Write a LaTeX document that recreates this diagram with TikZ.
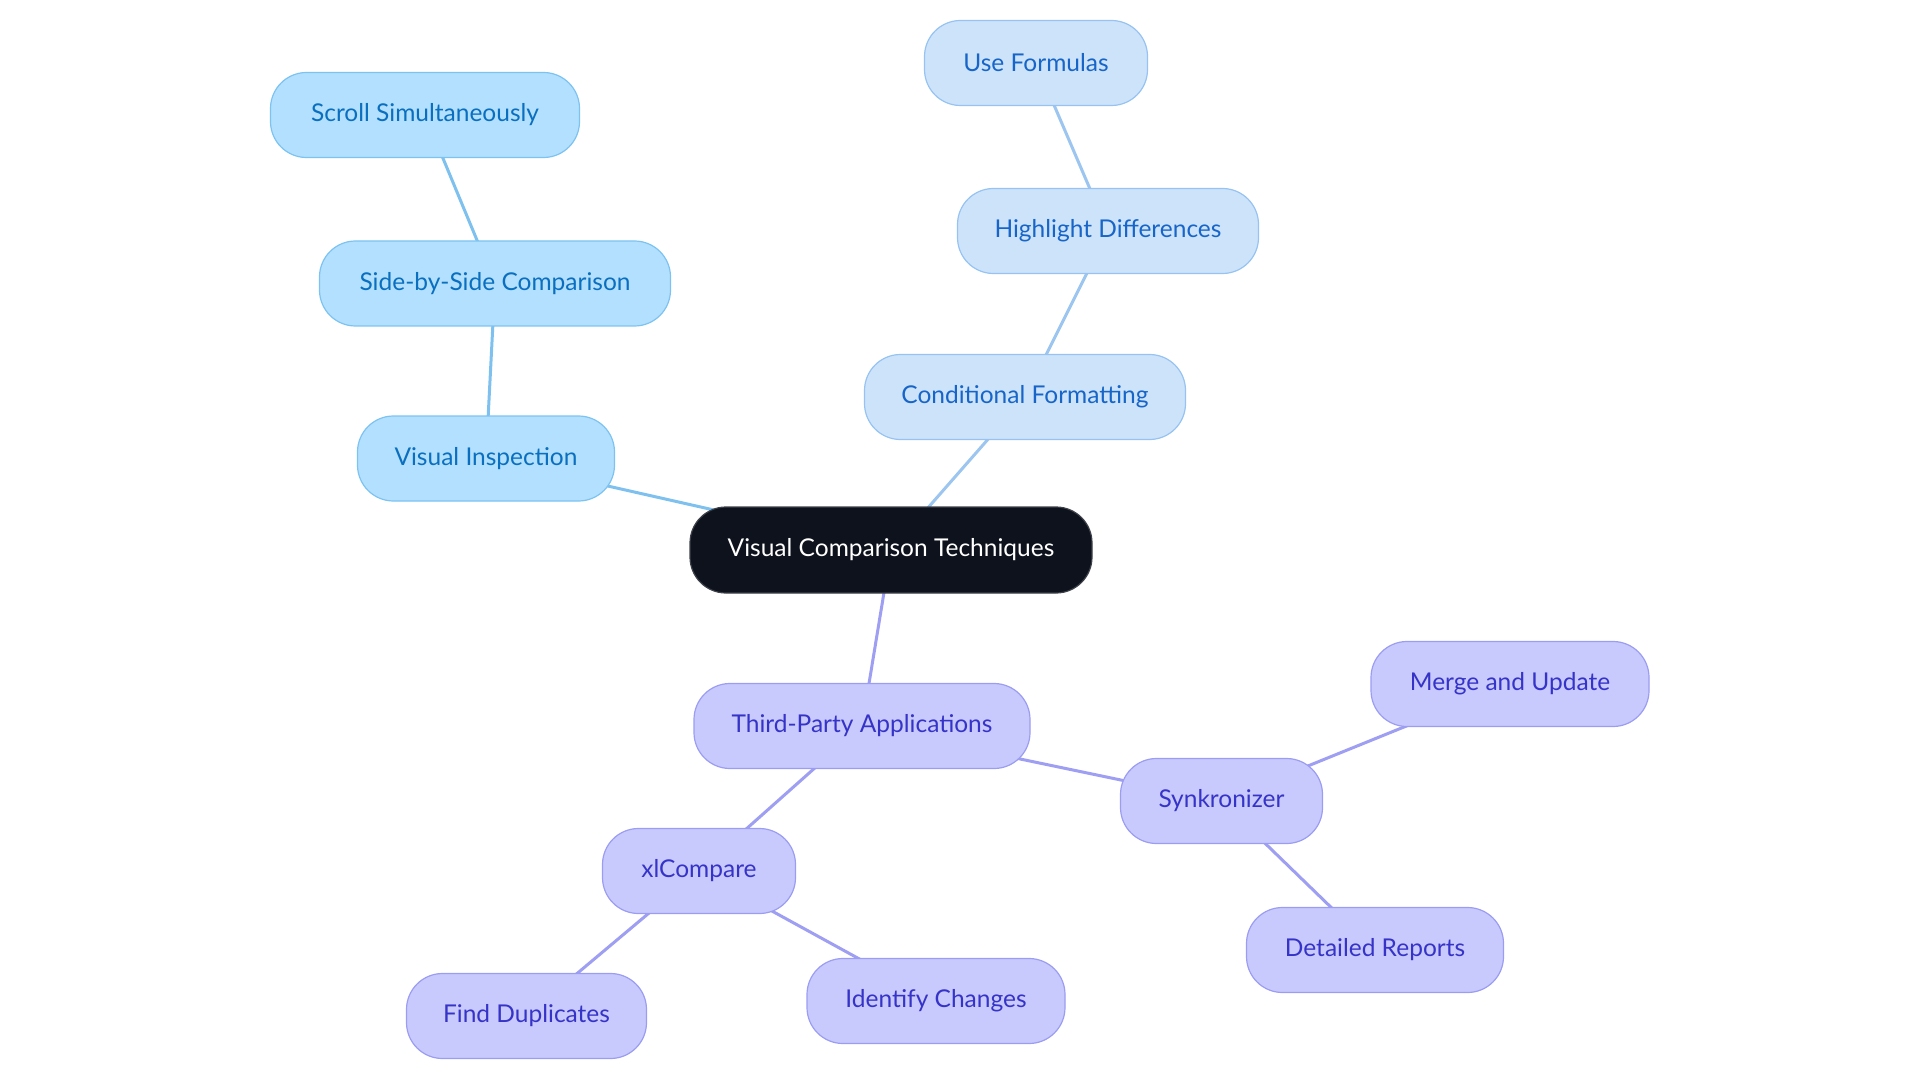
\documentclass[tikz,border=0pt]{standalone}
\usepackage{fontspec}
\setmainfont{Lato}
\usetikzlibrary{backgrounds}
\definecolor{cfill}{HTML}{0D121C}
\definecolor{bfill}{HTML}{B3E0FE}
\definecolor{bdraw}{HTML}{7CC3F2}
\definecolor{btext}{HTML}{0A6FBF}
\definecolor{lfill}{HTML}{CDE3FA}
\definecolor{ldraw}{HTML}{96C3F2}
\definecolor{ltext}{HTML}{1765C8}
\definecolor{pfill}{HTML}{C8C9FC}
\definecolor{pdraw}{HTML}{9B9DF2}
\definecolor{ptext}{HTML}{3634C8}
\definecolor{bedge}{HTML}{7EC0EE}
\definecolor{ledge}{HTML}{9CC6F0}
\definecolor{pedge}{HTML}{9E9EF2}
\tikzset{
  box/.style={rounded corners=36pt, minimum height=85pt, line width=1.2pt, inner xsep=0pt, font=\fontsize{24.5}{28}\selectfont},
  cnode/.style={box, fill=cfill, draw=cfill!80!white, text=white},
  bnode/.style={box, fill=bfill, draw=bdraw, text=btext},
  lnode/.style={box, fill=lfill, draw=ldraw, text=ltext},
  pnode/.style={box, fill=pfill, draw=pdraw, text=ptext},
  bline/.style={draw=bedge, line width=3pt},
  lline/.style={draw=ledge, line width=3pt},
  pline/.style={draw=pedge, line width=3pt},
}
\begin{document}
\begin{tikzpicture}[x=1pt,y=-1pt]
\useasboundingbox (0,0) rectangle (1920,1083);
\node[cnode, minimum width=402pt, minimum height=86pt] (c) at (891,550) {Visual Comparison Techniques};
\node[bnode, minimum width=309pt] (ss) at (425,115) {Scroll Simultaneously};
\node[bnode, minimum width=351pt] (sbs) at (495,283.5) {Side-by-Side Comparison};
\node[bnode, minimum width=257pt] (vi) at (486,458.5) {Visual Inspection};
\node[lnode, minimum width=223pt] (uf) at (1036,63) {Use Formulas};
\node[lnode, minimum width=301pt] (hd) at (1108,231) {Highlight Differences};
\node[lnode, minimum width=321pt] (cf) at (1025,397) {Conditional Formatting};
\node[pnode, minimum width=336pt] (tpa) at (862,726) {Third-Party Applications};
\node[pnode, minimum width=193pt] (xl) at (699,871) {xlCompare};
\node[pnode, minimum width=240pt] (fd) at (526.5,1016) {Find Duplicates};
\node[pnode, minimum width=258pt] (ic) at (936,1001) {Identify Changes};
\node[pnode, minimum width=202pt] (sk) at (1221.5,801) {Synkronizer};
\node[pnode, minimum width=278pt] (mu) at (1510,684) {Merge and Update};
\node[pnode, minimum width=257pt] (dr) at (1375,950) {Detailed Reports};
\begin{scope}[on background layer]
\draw[bline] (c.center) -- (vi.center);
\draw[bline] (vi.center) -- (sbs.center);
\draw[bline] (sbs.center) -- (ss.center);
\draw[lline] (c.center) -- (cf.center);
\draw[lline] (cf.center) -- (hd.center);
\draw[lline] (hd.center) -- (uf.center);
\draw[pline] (c.center) -- (tpa.center);
\draw[pline] (tpa.center) -- (xl.center);
\draw[pline] (xl.center) -- (fd.center);
\draw[pline] (xl.center) -- (ic.center);
\draw[pline] (tpa.center) -- (sk.center);
\draw[pline] (sk.center) -- (mu.center);
\draw[pline] (sk.center) -- (dr.center);
\end{scope}
\end{tikzpicture}
\end{document}
